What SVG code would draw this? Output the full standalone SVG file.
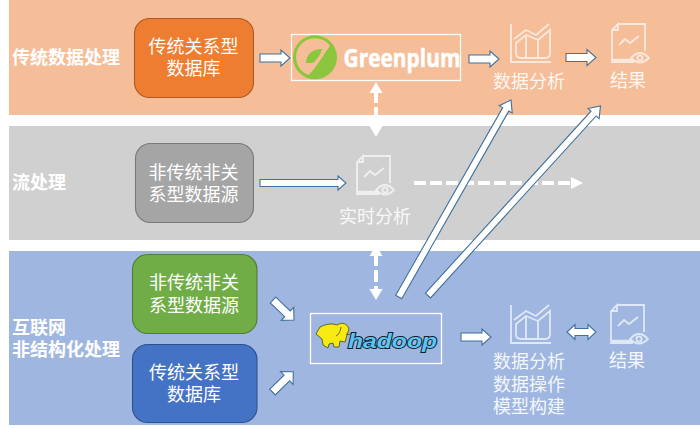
<svg xmlns="http://www.w3.org/2000/svg" width="700" height="428" viewBox="0 0 700 428">
<style>
text{font-family:"Noto Sans CJK SC","Noto Sans",sans-serif;font-size:18px;fill:#fff;text-anchor:middle}
.h{font-weight:700;text-anchor:start}
.l{opacity:.88}
.ba{fill:#fff;stroke:#41719c;stroke-width:1.1}
.d{stroke:#fff;stroke-width:4;stroke-dasharray:12 4;fill:none}
.w{fill:#fff}
.i{fill:none;stroke:#fff;stroke-width:1.8;opacity:.68}
.n{stroke-width:1.1}
.b{fill:none;stroke:#fff;stroke-width:1.3}
</style>
<defs>
<g id="chart" class="i">
<path d="M1 0V38H41"/>
<path d="M4 15L16 6L26 11L39 0"/>
<path d="M6 19L16 11L28 16L40 6V29Q40 34 35 34H11Q6 34 6 29Z"/>
<path d="M16 11V34M28 16V34"/>
</g>
<g id="doc" class="i">
<path d="M6 0H33V27M22 38H0V6L6 0V6H0"/>
<path d="M1 36H22" stroke-width="2.5"/>
<path d="M7 21L13 15L18 19L27 12"/>
<path d="M19 34Q28 24 37 34Q28 43 19 34Z"/>
<circle cx="28" cy="34" r="2.6"/>
</g>
</defs>

<g id="bands">
<rect x="9" y="0" width="691" height="115" fill="#f5bd98"/>
<rect x="9" y="126" width="691" height="114" fill="#d0d0d0"/>
<rect x="9" y="251" width="691" height="174" fill="#9fb7e0"/>
</g>
<g id="band-labels">
<text class="h" x="12" y="64">传统数据处理</text>
<text class="h" x="12" y="189">流处理</text>
<text class="h" x="12" y="334">互联网</text>
<text class="h" x="12" y="356">非结构化处理</text>
</g>

<g id="node-rdb-top">
<rect class="n" x="134.500" y="18.500" width="119" height="79" rx="15" fill="#ed7d31" stroke="#ae5a21"/>
<text x="193.500" y="53">传统关系型</text>
<text x="193.500" y="75">数据库</text>
</g>
<g id="node-src-stream">
<rect class="n" x="135.500" y="143.500" width="118" height="79" rx="15" fill="#a5a5a5" stroke="#787878"/>
<text x="193.500" y="179">非传统非关</text>
<text x="193.500" y="201">系型数据源</text>
</g>
<g id="node-src-web">
<rect class="n" x="132.500" y="254.500" width="124.500" height="79" rx="15" fill="#70ad47" stroke="#507e32"/>
<text x="194" y="289">非传统非关</text>
<text x="194" y="312">系型数据源</text>
</g>
<g id="node-rdb-web">
<rect class="n" x="132.500" y="344.500" width="124.500" height="78" rx="15" fill="#4472c4" stroke="#2f528f"/>
<text x="194" y="379">传统关系型</text>
<text x="194" y="401">数据库</text>
</g>

<g id="node-greenplum">
<rect class="b" x="291.500" y="34.500" width="169" height="46"/>
<circle cx="315" cy="57.300" r="22" fill="#8cc63f"/>
<path d="M330 45.500A19 19 0 1 0 308.500 75C316 68 323 56 330 45.500Z" fill="#f5bd98"/>
<path d="M306 63C306 55 312 49 322 49C321 54 318 58 313 63Z" fill="#8cc63f"/>
<text x="402" y="67" textLength="117" lengthAdjust="spacingAndGlyphs" stroke="#fff" stroke-width=".5" style="font-family:'Open Sans',sans-serif;font-size:24.500px;font-weight:700">Greenplum</text>
</g>
<g id="node-hadoop">
<rect class="b" x="310.500" y="313.500" width="131" height="50"/>
<g fill="#f7ea12" stroke="#4a4a10" stroke-width=".8">
<path d="M323 345L322 339L316 334L320 327C326 324 332 323 337 325C342 322 347 323 349 329L347 335L345 342L340 341L339 347L334 347L333 343L329 344L328 348Z"/>
<path d="M341 327Q340 334 336 336" fill="none"/>
<path d="M346 334Q350 336 352 332" fill="none"/>
</g>
<text x="392.500" y="348" textLength="89" lengthAdjust="spacingAndGlyphs" stroke="#10202c" stroke-width="1.800" paint-order="stroke" style="font-family:'Liberation Sans',sans-serif;font-size:21px;font-weight:700;font-style:italic;fill:#5cc3f2">hadoop</text>
</g>

<g id="node-analysis-top">
<use href="#chart" x="510" y="24"/>
<text class="l" x="529" y="88">数据分析</text>
</g>
<g id="node-result-top">
<use href="#doc" x="612" y="24"/>
<text class="l" x="628" y="87">结果</text>
</g>
<g id="node-realtime">
<use href="#doc" x="357" y="156"/>
<text class="l" x="375" y="223">实时分析</text>
</g>
<g id="node-analysis-web">
<use href="#chart" x="510" y="305"/>
<text class="l" x="529" y="368">数据分析</text>
<text class="l" x="529" y="391">数据操作</text>
<text class="l" x="529" y="413">模型构建</text>
</g>
<g id="node-result-web">
<use href="#doc" x="611" y="305"/>
<text class="l" x="627" y="367">结果</text>
</g>

<g id="connectors">
<path class="d" d="M376 91V128"/>
<path class="w" d="M376 82L382.500 93H369.500ZM376 137L382.500 126H369.500Z"/>
<path class="d" d="M376 254V291"/>
<path class="w" d="M376 245L382.500 256H369.500ZM376 300L382.500 289H369.500Z"/>
<path class="d" d="M414 183H572"/>
<path class="w" d="M583 183L571 177V189Z"/>
<path class="ba" d="M260 54H281V50L290 58L281 66V62H260Z"/>
<path class="ba" d="M469 55H490V51L499 59L490 67V63H469Z"/>
<path class="ba" d="M566 53.500H587V49.500L596 57.500L587 65.500V61.500H566Z"/>
<path class="ba" d="M260 179.500H338V176L346 183L338 190V186.500H260Z"/>
<path class="ba" d="M461 333H482V329L491 337L482 345V341H461Z"/>
<path class="ba" d="M567 332L575 324.500V328.500H588V324.500L596 332L588 339.500V335.500H575V339.500Z"/>
<path class="ba" transform="translate(273 300) rotate(43.600)" d="M0 -4H20V-9L29 0L20 9V4H0Z"/>
<path class="ba" transform="translate(272.500 392) rotate(-44.300)" d="M0 -4H20V-9L29 0L20 9V4H0Z"/>
<path class="ba" transform="translate(398.700 297) rotate(-60.300)" d="M0 -3.500H216V-7.500L226.800 0L216 7.500V3.500H0Z"/>
<path class="ba" transform="translate(428 295.500) rotate(-47.700)" d="M0 -3.500H246V-7.500L256.300 0L246 7.500V3.500H0Z"/>
</g>
</svg>
